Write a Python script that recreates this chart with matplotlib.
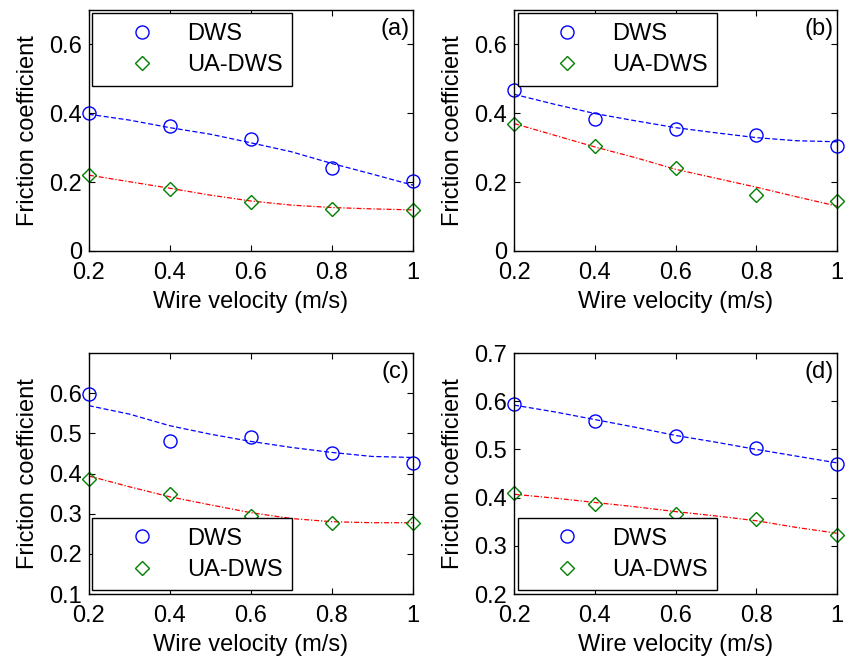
import numpy as np
import matplotlib
matplotlib.use('Agg')
import matplotlib.pyplot as plt

plt.rcParams['font.family'] = ['Liberation Sans', 'DejaVu Sans']

# Wire velocity (m/s)
velocity = [0.2, 0.4, 0.6, 0.8, 1.0]

# Friction coefficient
dws_a = [0.400, 0.363, 0.324, 0.241, 0.202]
ua_a = [0.220, 0.180, 0.142, 0.122, 0.119]

dws_b = [0.466, 0.384, 0.354, 0.337, 0.306]
ua_b = [0.370, 0.305, 0.242, 0.162, 0.146]

dws_c = [0.598, 0.481, 0.492, 0.451, 0.426]
ua_c = [0.386, 0.348, 0.295, 0.277, 0.276]

dws_d = [0.595, 0.560, 0.527, 0.502, 0.469]
ua_d = [0.409, 0.387, 0.366, 0.355, 0.322]

# fitted trend curves at these velocities
fit_x = [0.2, 0.3, 0.4, 0.5, 0.6, 0.7, 0.8, 0.9, 1.0]
fit_dws_a = [0.397, 0.380, 0.358, 0.339, 0.314, 0.288, 0.254, 0.223, 0.191]
fit_ua_a = [0.220, 0.201, 0.182, 0.162, 0.145, 0.133, 0.126, 0.122, 0.119]
fit_dws_b = [0.455, 0.426, 0.399, 0.378, 0.358, 0.343, 0.329, 0.320, 0.317]
fit_ua_b = [0.370, 0.336, 0.302, 0.271, 0.237, 0.211, 0.185, 0.157, 0.130]
fit_dws_c = [0.569, 0.548, 0.519, 0.498, 0.480, 0.465, 0.4525, 0.4425, 0.440]
fit_ua_c = [0.394, 0.367, 0.342, 0.322, 0.3025, 0.288, 0.280, 0.2775, 0.2775]
fit_dws_d = [0.592, 0.578, 0.562, 0.546, 0.529, 0.515, 0.500, 0.486, 0.472]
fit_ua_d = [0.407, 0.399, 0.390, 0.381, 0.371, 0.362, 0.352, 0.338, 0.326]

panel_tags = ['(a)', '(b)', '(c)', '(d)']
y_limits = [(0, 0.7), (0, 0.7), (0.1, 0.7), (0.2, 0.7)]
y_ticks = [[0, 0.2, 0.4, 0.6], [0, 0.2, 0.4, 0.6],
           [0.1, 0.2, 0.3, 0.4, 0.5, 0.6], [0.2, 0.3, 0.4, 0.5, 0.6, 0.7]]
y_ticklabels = [['0', '0.2', '0.4', '0.6'], ['0', '0.2', '0.4', '0.6'],
                ['0.1', '0.2', '0.3', '0.4', '0.5', '0.6'],
                ['0.2', '0.3', '0.4', '0.5', '0.6', '0.7']]
legend_loc = ['upper left', 'upper left', 'lower left', 'lower left']

x_ticks = [0.2, 0.4, 0.6, 0.8, 1.0]
x_ticklabels = ['0.2', '0.4', '0.6', '0.8', '1']

fig = plt.figure(figsize=(8.46, 6.62), dpi=100)

# axes positions in figure fractions (left, bottom, width, height)
positions = [
    [0.105, 0.621, 0.383, 0.364],
    [0.6076, 0.621, 0.382, 0.364],
    [0.105, 0.1027, 0.383, 0.364],
    [0.6076, 0.1027, 0.382, 0.364],
]

data = [(dws_a, ua_a, fit_dws_a, fit_ua_a),
        (dws_b, ua_b, fit_dws_b, fit_ua_b),
        (dws_c, ua_c, fit_dws_c, fit_ua_c),
        (dws_d, ua_d, fit_dws_d, fit_ua_d)]
fs = 17

for i in range(4):
    ax = fig.add_axes(positions[i])
    dws, ua, fdws, fua = data[i]

    ax.plot(fit_x, fdws, color='blue', lw=0.9, dashes=(4, 2))
    ax.plot(fit_x, fua, color='red', lw=0.9, dashes=(4, 1.5, 1, 1.5))

    h1, = ax.plot(velocity, dws, 'o', ms=9.4, mfc='none', mec='blue', mew=1,
                  label='DWS', clip_on=False)
    h2, = ax.plot(velocity, ua, 'D', ms=7, mfc='none', mec='green', mew=1,
                  label='UA-DWS', clip_on=False)

    ax.set_xlim(0.2, 1.0)
    ax.set_ylim(*y_limits[i])
    ax.set_xticks(x_ticks)
    ax.set_xticklabels(x_ticklabels)
    ax.set_yticks(y_ticks[i])
    ax.set_yticklabels(y_ticklabels[i])
    ax.tick_params(direction='in', length=4, width=0.8, top=True, right=True,
                   labelsize=fs)
    ax.tick_params(axis='x', pad=8)
    ax.tick_params(axis='y', pad=5)
    for s in ax.spines.values():
        s.set_linewidth(1)
    ax.set_xlabel('Wire velocity (m/s)', fontsize=fs, labelpad=5)
    ax.set_ylabel('Friction coefficient', fontsize=fs, labelpad=7)

    ax.text(0.99, 0.967, panel_tags[i], transform=ax.transAxes, ha='right',
            va='top', fontsize=fs)

    leg = ax.legend(handles=[h1, h2], loc=legend_loc[i], fontsize=fs,
                    frameon=True, fancybox=False, borderaxespad=0.15,
                    borderpad=0.4, handlelength=3.4, handletextpad=0.2,
                    labelspacing=0.4)
    leg.get_frame().set_edgecolor('black')
    leg.get_frame().set_linewidth(1)
    leg.get_frame().set_alpha(1)

fig.savefig('out.png', dpi=100)
